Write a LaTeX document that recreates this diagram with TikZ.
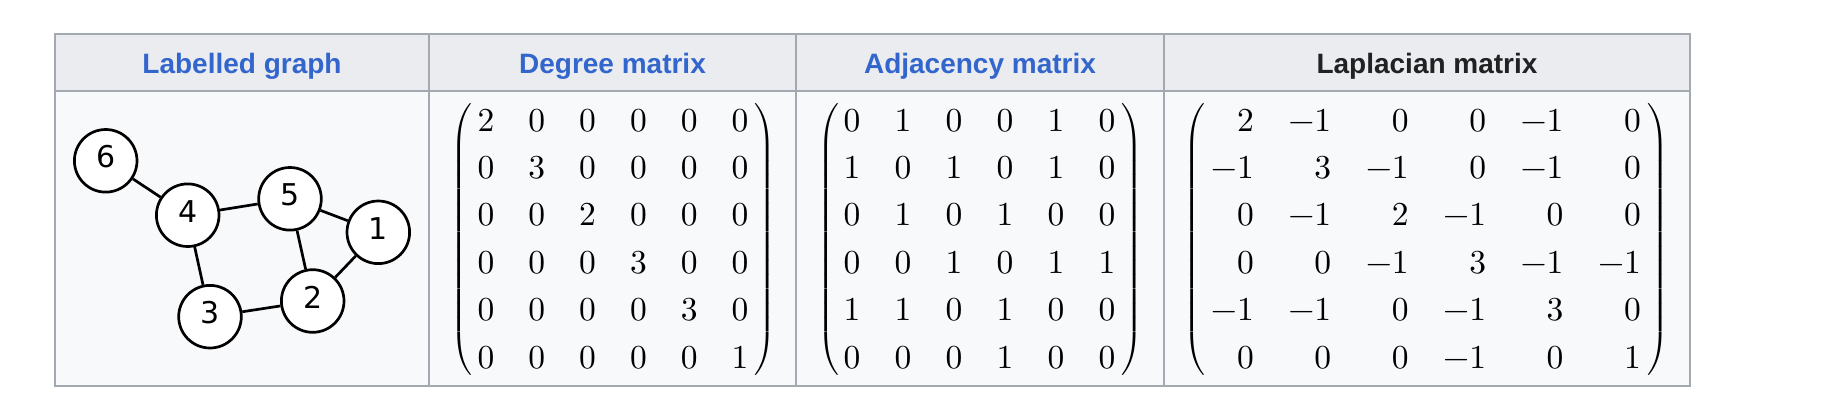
\documentclass[tikz,border=0pt]{standalone}
\usepackage{amsmath}
\usepackage{graphicx}
\usepackage{fontspec}
\newfontfamily\headfont{Liberation Sans}
\newfontfamily\graphfont{DejaVu Sans}
\newfontfamily\lmten{lmroman10-regular}[Extension=.otf]
\definecolor{hdrbg}{HTML}{EAECF0}
\definecolor{bodybg}{HTML}{F8F9FA}
\definecolor{gridc}{HTML}{A2A9B1}
\definecolor{linkblue}{HTML}{3366CC}
\definecolor{darktext}{HTML}{202122}
\newcommand{\lpar}{\resizebox*{\width}{271.7pt}{$\delimiterfactor=1000 \delimitershortfall=0pt \left(\vcenter{\hrule height 271pt width 0pt}\right.$}}
\newcommand{\rpar}{\resizebox*{\width}{271.7pt}{$\delimiterfactor=1000 \delimitershortfall=0pt \left.\vcenter{\hrule height 271pt width 0pt}\right)$}}
\begin{document}
\begin{tikzpicture}[x=1pt,y=-1pt,
  hdr/.style={font=\headfont\bfseries\fontsize{28}{34}\selectfont, text=linkblue, anchor=base, inner sep=0pt},
  vtx/.style={circle, draw=black, line width=2.7pt, fill=white, minimum size=62.6pt, inner sep=0pt,
    font=\graphfont\fontsize{30}{36}\selectfont, text height=22pt, text depth=8pt},
  edge/.style={draw=black, line width=2.7pt},
  entry/.style={font=\lmten\fontsize{33.5}{40}\selectfont, inner sep=0pt, anchor=base},
  lent/.style={entry, anchor=base east},
  paren/.style={inner sep=0pt, font=\fontsize{33}{40}\selectfont},
  grid/.style={draw=gridc, line width=1.6pt}]
\useasboundingbox (0,0) rectangle (1832,408);
\fill[white] (0,0) rectangle (1832,408);
% table backgrounds
\fill[hdrbg] (55,34) rectangle (1690,91);
\fill[bodybg] (55,91) rectangle (1690,386);
\draw[grid] (55,34) rectangle (1690,386);
\draw[grid] (55,91) -- (1690,91);
\draw[grid] (429,34) -- (429,386);
\draw[grid] (796,34) -- (796,386);
\draw[grid] (1164,34) -- (1164,386);
% headers
\node[hdr] (h1) at (242,73) {Labelled graph};
\node[hdr] (h2) at (612.5,73) {Degree matrix};
\node[hdr] (h3) at (980,73) {Adjacency matrix};
\node[hdr, text=darktext] (h4) at (1427,73) {Laplacian matrix};
% graph
\node[vtx] (v6) at (105.7,160.8) {6};
\node[vtx] (v4) at (187.7,215.2) {4};
\node[vtx] (v5) at (290,198.8) {5};
\node[vtx] (v1) at (378.3,232.3) {1};
\node[vtx] (v2) at (312.7,301) {2};
\node[vtx] (v3) at (210,316.7) {3};
\draw[edge] (v6) -- (v4);
\draw[edge] (v4) -- (v5);
\draw[edge] (v5) -- (v1);
\draw[edge] (v5) -- (v2);
\draw[edge] (v1) -- (v2);
\draw[edge] (v4) -- (v3);
\draw[edge] (v3) -- (v2);
% degree matrix
\foreach \row [count=\r] in {{2,0,0,0,0,0},{0,3,0,0,0,0},{0,0,2,0,0,0},{0,0,0,3,0,0},{0,0,0,0,3,0},{0,0,0,0,0,1}}{
  \foreach \v [count=\c] in \row {
    \node[entry] (D-\r-\c) at ({486+50.8*(\c-1)},{131+47.4*(\r-1)}) {\v};
  }
}
% adjacency matrix
\foreach \row [count=\r] in {{0,1,0,0,1,0},{1,0,1,0,1,0},{0,1,0,1,0,0},{0,0,1,0,1,1},{1,1,0,1,0,0},{0,0,0,1,0,0}}{
  \foreach \v [count=\c] in \row {
    \node[entry] (A-\r-\c) at ({852+51*(\c-1)},{131+47.4*(\r-1)}) {\v};
  }
}
% laplacian matrix
\foreach \row [count=\r] in {{2,−1,0,0,−1,0},{−1,3,−1,0,−1,0},{0,−1,2,−1,0,0},{0,0,−1,3,−1,−1},{−1,−1,0,−1,3,0},{0,0,0,−1,0,1}}{
  \foreach \v [count=\c] in \row {
    \node[lent] (L-\r-\c) at ({1254+77.4*(\c-1)},{131+47.4*(\r-1)}) {\v};
  }
}
% parentheses
\node[paren] (DL) at (462,239.2) {\lpar};
\node[paren] (DR) at (764.5,239.2) {\rpar};
\node[paren] (AL) at (828.5,239.2) {\lpar};
\node[paren] (AR) at (1131.5,239.2) {\rpar};
\node[paren] (LL) at (1194.5,239.2) {\lpar};
\node[paren] (LR) at (1657.5,239.2) {\rpar};
\end{tikzpicture}
\end{document}
